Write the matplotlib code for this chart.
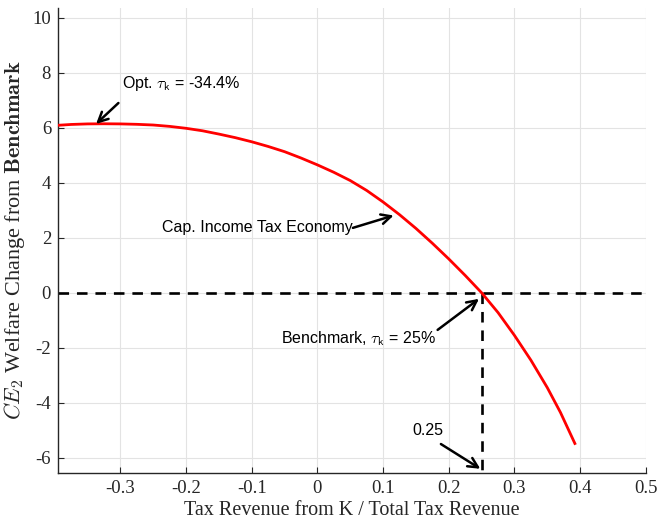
import numpy as np
import matplotlib.pyplot as plt

plt.rcParams['mathtext.fontset'] = 'cm'
plt.rcParams['axes.unicode_minus'] = False

# curve
share = [-0.395, -0.375, -0.35, -0.325, -0.30, -0.275, -0.25, -0.225, -0.20,
         -0.175, -0.15, -0.125, -0.10, -0.075, -0.05, -0.025, 0.00, 0.025,
         0.05, 0.075, 0.10, 0.125, 0.15, 0.175, 0.20, 0.225, 0.25, 0.275,
         0.30, 0.325, 0.35, 0.37, 0.392]
ce2 = [6.09, 6.12, 6.14, 6.145, 6.14, 6.125, 6.10, 6.05, 5.98,
       5.89, 5.77, 5.64, 5.49, 5.32, 5.13, 4.90, 4.65, 4.38,
       4.08, 3.72, 3.30, 2.84, 2.34, 1.80, 1.23, 0.63, 0.0, -0.72,
       -1.55, -2.45, -3.45, -4.35, -5.48]

bench_x = 0.25
xticks = [-0.3, -0.2, -0.1, 0, 0.1, 0.2, 0.3, 0.4, 0.5]
xticklabels = ['-0.3', '-0.2', '-0.1', '0', '0.1', '0.2', '0.3', '0.4', '0.5']
yticks = [-6, -4, -2, 0, 2, 4, 6, 8, 10]

fig = plt.figure(figsize=(6.59, 5.24), dpi=100)
ax = fig.add_axes([0.088, 0.0975, 0.892, 0.887])

ax.grid(True, color='#e3e3e3', lw=0.8)
ax.set_axisbelow(True)

ax.plot(share, ce2, color='red', lw=2.0, zorder=3)
ax.axhline(0, color='black', ls=(0, (4, 3)), lw=1.9, zorder=2)
ax.plot([bench_x, bench_x], [0, -6.55], color='black', ls=(0, (4, 3)), lw=1.9, zorder=2)

ax.set_xlim(-0.395, 0.5)
ax.set_ylim(-6.55, 10.35)
ax.set_xticks(xticks)
ax.set_xticklabels(xticklabels)
ax.set_yticks(yticks)

for s in ['top', 'right']:
    ax.spines[s].set_visible(False)
for s in ['left', 'bottom']:
    ax.spines[s].set_color('#262626')
    ax.spines[s].set_linewidth(1.0)
ax.tick_params(direction='in', length=4, color='#262626', labelcolor='#262626', pad=5)
for lab in ax.get_xticklabels() + ax.get_yticklabels():
    lab.set_fontfamily('Liberation Serif')
    lab.set_fontsize(13.5)

ax.set_xlabel('Tax Revenue from K / Total Tax Revenue', family='Liberation Serif',
              fontsize=14.5, color='#262626', labelpad=3)
ax.set_ylabel(r'$CE_2$ Welfare Change from $\mathbf{Benchmark}$', fontsize=16,
              color='#262626', labelpad=4)
ax.yaxis.label.set_fontfamily('Liberation Serif')

arr = dict(arrowstyle='->,head_length=0.7,head_width=0.35', color='black', lw=1.8,
           shrinkA=0, shrinkB=0)
txt = dict(family='Liberation Sans', fontsize=11.5, color='black')

ax.text(-0.297, 7.6, r'Opt. $\tau_{\mathsf{k}}$ = -34.4%', ha='left', va='center', **txt)
ax.annotate('', xy=(-0.337, 6.14), xytext=(-0.303, 6.9), arrowprops=arr)

ax.text(0.054, 2.36, 'Cap. Income Tax Economy', ha='right', va='center', **txt)
ax.annotate('', xy=(0.116, 2.81), xytext=(0.054, 2.36), arrowprops=arr)

ax.text(0.181, -1.65, r'Benchmark, $\tau_{\mathsf{k}}$ = 25%', ha='right', va='center', **txt)
ax.annotate('', xy=(0.246, -0.22), xytext=(0.183, -1.35), arrowprops=arr)

ax.text(0.168, -5.0, '0.25', ha='center', va='center', **txt)
ax.annotate('', xy=(0.248, -6.4), xytext=(0.188, -5.5), arrowprops=arr)

fig.savefig('out.png', dpi=100)
